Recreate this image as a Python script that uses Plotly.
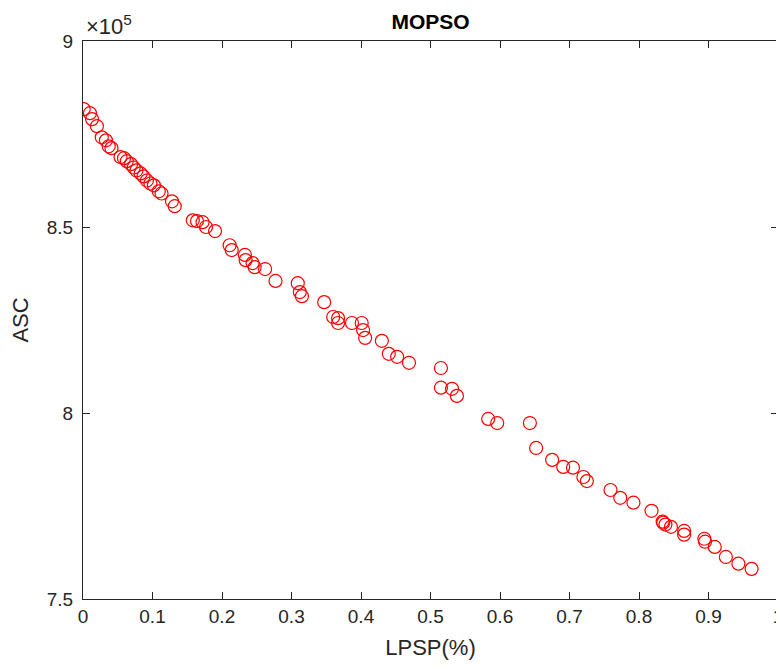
import plotly.graph_objects as go

# LPSP(%) と ASC（MOPSO のパレート解）
lpsp = [0.001, 0.010, 0.013, 0.020, 0.027, 0.033, 0.037, 0.041, 0.054, 0.059,
        0.063, 0.069, 0.073, 0.077, 0.083, 0.087, 0.092, 0.097, 0.102, 0.109,
        0.113, 0.128, 0.132, 0.158, 0.164, 0.172, 0.177, 0.190, 0.211, 0.214,
        0.233, 0.234, 0.244, 0.247, 0.262, 0.277, 0.309, 0.312, 0.315, 0.347,
        0.360, 0.367, 0.367, 0.387, 0.401, 0.403, 0.406, 0.430, 0.440, 0.452,
        0.469, 0.515, 0.515, 0.531, 0.538, 0.583, 0.596, 0.643, 0.652, 0.675,
        0.691, 0.705, 0.720, 0.725, 0.759, 0.773, 0.792, 0.818, 0.834, 0.835,
        0.838, 0.846, 0.865, 0.865, 0.894, 0.895, 0.909, 0.925, 0.943, 0.962]
asc = [881700, 880600, 879000, 877100, 874100, 873300, 871700, 871200, 868800, 868500,
       867700, 866900, 866000, 865200, 864400, 863600, 862500, 861700, 861200, 859600,
       859000, 856900, 855600, 851800, 851600, 851300, 850000, 848900, 845100, 843800,
       842500, 841100, 840300, 839200, 838700, 835500, 834900, 832500, 831400, 829800,
       825800, 825500, 824200, 824200, 824200, 822300, 820200, 819400, 815900, 815100,
       813500, 812100, 806800, 806500, 804600, 798400, 797300, 797300, 790600, 787400,
       785500, 785300, 782800, 781700, 779300, 777200, 775900, 773700, 770800, 770500,
       770000, 769400, 768300, 767300, 766200, 765400, 764000, 761300, 759500, 758100]

x_ticks = [0, 0.1, 0.2, 0.3, 0.4, 0.5, 0.6, 0.7, 0.8, 0.9, 1]
x_ticktext = ["0", "0.1", "0.2", "0.3", "0.4", "0.5", "0.6", "0.7", "0.8", "0.9", "1"]
y_ticks = [750000, 800000, 850000, 900000]
y_ticktext = ["7.5", "8", "8.5", "9"]

axis_color = "#262626"
font_family = "Liberation Sans, Arial, sans-serif"

# ページ本体の余白 (8px) を差し引いたサイズ
W, H = 776, 659

fig = go.Figure()

fig.add_trace(go.Scatter(
    x=lpsp,
    y=asc,
    mode="markers",
    marker=dict(symbol="circle-open", size=13, color="#ff0000",
                line=dict(color="#ff0000", width=1.2)),
    showlegend=False,
))

# 指数表示 (×10^5)
fig.add_annotation(
    x=0, y=1, xref="paper", yref="paper",
    xanchor="left", yanchor="bottom", yshift=0, xshift=1,
    text="×10<sup>5</sup>", showarrow=False,
    font=dict(family=font_family, size=22, color=axis_color),
)

fig.update_layout(
    width=W, height=H,
    margin=dict(l=75, r=6, t=33, b=68),
    paper_bgcolor="white",
    plot_bgcolor="white",
    font=dict(family=font_family, color=axis_color),
    title=dict(text="<b>MOPSO</b>", x=422.5 / W, xanchor="center",
               y=1 - 14 / H, yanchor="middle",
               font=dict(family=font_family, size=21, color="black")),
)

fig.update_xaxes(
    range=[0, 1],
    tickvals=x_ticks, ticktext=x_ticktext,
    ticks="inside", ticklen=7, tickcolor=axis_color, tickwidth=1,
    showline=True, linecolor=axis_color, linewidth=1, mirror="ticks",
    showgrid=False, zeroline=False, automargin=False,
    tickfont=dict(size=19, color=axis_color),
    title=dict(text="LPSP(%)", font=dict(size=22, color=axis_color), standoff=13),
)

fig.update_yaxes(
    range=[750000, 900000],
    tickvals=y_ticks, ticktext=y_ticktext,
    ticks="inside", ticklen=7, tickcolor=axis_color, tickwidth=1,
    showline=True, linecolor=axis_color, linewidth=1, mirror="ticks",
    showgrid=False, zeroline=False, automargin=False,
    ticklabelstandoff=5,
    tickfont=dict(size=19, color=axis_color),
    title=dict(text="ASC", font=dict(size=22, color=axis_color), standoff=12),
)

fig.write_html("out.html")
